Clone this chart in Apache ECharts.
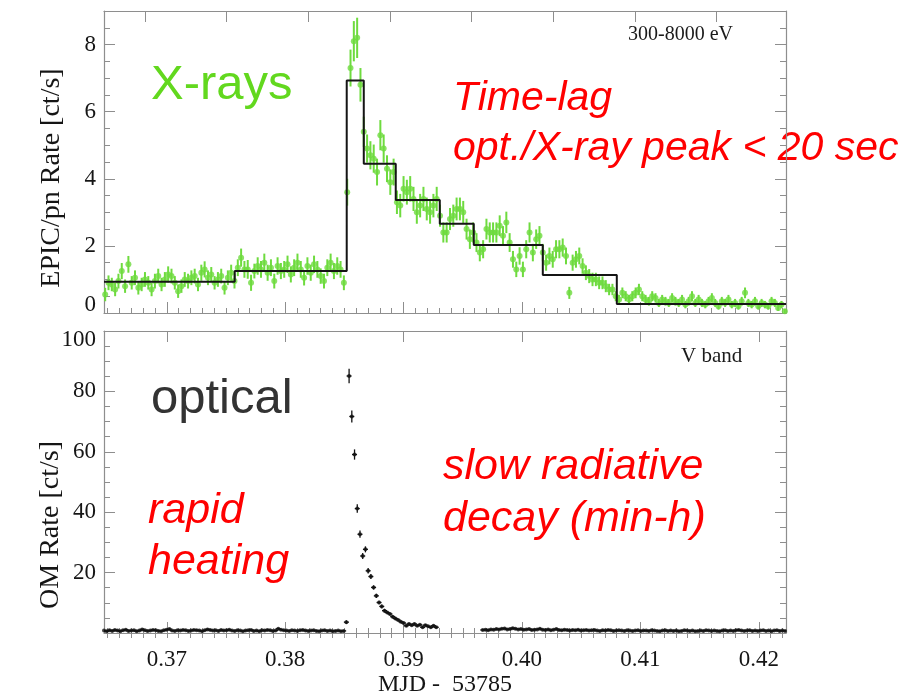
<!DOCTYPE html>
<html><head><meta charset="utf-8">
<script src="https://cdn.jsdelivr.net/npm/echarts@6/dist/echarts.min.js"></script>
<style>html,body{margin:0;padding:0;background:#fff}#c{width:921px;height:698px}</style>
</head><body><div id="c"></div>
<script>
// ---------------- data ----------------
const xMin = 0.3647, xMax = 0.4223;
const xTickLabels = [0.37, 0.38, 0.39, 0.40, 0.41, 0.42];
const topPanelTopTicks = [0.368142, 0.375042, 0.381943, 0.388843, 0.395743, 0.402644, 0.409544, 0.416444];
const xrayYTicks = [0, 2, 4, 6, 8];
const optYTicks = [20, 40, 60, 80, 100];

// X-ray light curve (EPIC/pn, 300-8000 eV), uniform bins
const xrayT0 = 0.3648, xrayDt = 0.00028;
const xrayRate = [
  0.55,0.9,0.85,0.7,0.95,1.25,0.8,1.45,0.9,1.05,
  0.75,0.85,1.0,0.9,0.7,0.95,1.1,0.85,1.0,1.15,
  1.1,0.9,0.65,0.8,1.0,0.95,1.05,1.1,0.85,1.2,
  1.3,1.05,1.15,0.9,1.0,1.1,0.75,1.05,1.2,0.95,
  1.35,1.65,1.3,1.3,0.9,1.25,1.4,1.3,1.5,1.2,
  1.35,0.95,1.4,1.25,1.3,1.45,1.15,1.35,1.5,1.3,
  1.05,1.4,1.2,1.45,1.3,1.1,0.95,1.35,1.5,1.25,
  1.4,1.3,0.9,
  3.6,7.3,8.1,8.2,6.8,5.4,4.9,4.7,4.6,4.2,
  5.3,4.9,4.3,3.9,4.2,3.3,3.2,3.7,3.6,3.7,
  3.4,3.0,3.2,3.4,3.1,3.0,3.2,3.4,2.9,2.4,
  2.4,2.8,2.9,3.1,3.1,3.0,2.5,2.2,2.4,2.1,
  1.8,1.9,2.5,2.4,2.4,2.4,2.6,2.3,2.7,2.1,
  1.6,1.3,1.7,1.3,1.9,2.4,1.8,2.2,2.3,1.8,
  1.5,1.7,1.6,1.9,1.9,1.95,1.7,0.6,1.5,1.6,
  1.7,1.4,1.2,1.1,1.0,1.0,0.9,0.9,0.8,0.7,
  0.7,0.5,
  0.4,0.6,0.5,0.4,0.5,0.6,0.7,0.5,0.4,0.35,
  0.5,0.45,0.3,0.4,0.35,0.3,0.45,0.35,0.3,0.4,
  0.25,0.35,0.5,0.3,0.4,0.3,0.25,0.35,0.45,0.3,
  0.2,0.35,0.3,0.4,0.25,0.3,0.2,0.35,0.6,0.3,
  0.25,0.35,0.2,0.3,0.25,0.2,0.35,0.3,0.15,0.25,
  0.05
];
const xrayErr = [
  0.2,0.22,0.2,0.2,0.22,0.24,0.2,0.25,0.2,0.22,
  0.2,0.2,0.22,0.2,0.2,0.22,0.22,0.2,0.22,0.24,
  0.22,0.2,0.2,0.2,0.22,0.22,0.22,0.22,0.2,0.24,
  0.24,0.22,0.22,0.2,0.22,0.22,0.2,0.22,0.24,0.22,
  0.25,0.27,0.25,0.28,0.24,0.22,0.26,0.25,0.27,0.24,
  0.25,0.22,0.26,0.24,0.25,0.26,0.24,0.25,0.27,0.25,
  0.23,0.26,0.24,0.26,0.25,0.23,0.22,0.25,0.27,0.24,
  0.26,0.25,0.22,
  0.4,0.55,0.6,0.6,0.5,0.45,0.42,0.42,0.42,0.4,
  0.45,0.42,0.4,0.38,0.4,0.35,0.35,0.38,0.37,0.38,
  0.36,0.34,0.35,0.36,0.34,0.34,0.35,0.36,0.33,0.3,
  0.3,0.33,0.33,0.34,0.34,0.34,0.31,0.29,0.3,0.28,
  0.26,0.27,0.31,0.3,0.3,0.3,0.31,0.29,0.32,0.28,
  0.25,0.23,0.26,0.23,0.27,0.3,0.26,0.29,0.29,0.26,
  0.24,0.25,0.25,0.27,0.27,0.27,0.25,0.18,0.24,0.25,
  0.25,0.23,0.22,0.21,0.2,0.2,0.19,0.19,0.18,0.17,
  0.17,0.15,
  0.14,0.16,0.15,0.14,0.15,0.16,0.17,0.15,0.14,0.13,
  0.15,0.14,0.12,0.14,0.13,0.12,0.14,0.13,0.12,0.14,
  0.11,0.13,0.15,0.12,0.14,0.12,0.11,0.13,0.14,0.12,
  0.1,0.13,0.12,0.14,0.11,0.12,0.1,0.13,0.16,0.12,
  0.11,0.13,0.1,0.12,0.11,0.1,0.13,0.12,0.09,0.11,
  0.07
];

// Bayesian-block step curve
const blockEdges = [0.3647, 0.37574, 0.38520, 0.38664, 0.38934, 0.39306, 0.39593, 0.40176, 0.40801, 0.4223];
const blockLevels = [0.93, 1.25, 6.93, 4.45, 3.37, 2.66, 2.03, 1.13, 0.27];

// Optical (OM, V band), uniform bins
const optDt = 0.00023;
const optT0a = 0.3647;
const optQuiet1 = [
  0.8,0.6,0.9,0.7,1.0,0.8,0.6,0.9,1.1,0.7,
  0.8,0.9,0.6,0.8,1.2,0.9,0.7,0.8,1.0,0.9,
  0.7,0.6,0.9,1.1,1.3,0.8,0.7,0.9,0.8,1.0,
  0.9,0.7,0.8,1.0,0.9,0.8,0.6,0.9,1.2,1.0,
  0.8,0.9,0.7,1.0,0.8,0.9,1.1,0.8,0.7,0.9,
  0.8,0.6,0.8,0.9,1.0,0.7,0.8,0.6,0.9,0.8,
  1.0,0.9,0.7,0.8,1.4,1.1,0.9,0.8,0.7,0.9,
  0.8,0.7,0.9,1.0,0.8,0.7,0.8,0.9,0.7,0.6,
  0.8,0.9,0.7,0.8,0.6,0.7,0.8,0.6,0.7
];
const optFlare = [
  3.6,
  85.1,71.7,59.1,41.2,32.7,25.5,27.7,20.6,18.7,15.1,
  12.3,10.1,8.8,7.4,6.8,6.3,5.4,4.8,4.3,3.7,
  3.3,2.4,3.0,2.6,3.0,2.4,2.7,1.9,2.6,2.2,
  1.9,2.4,1.9
];
const optFlareErr = [
  0.6,
  2.4,2.0,1.7,1.4,1.2,1.0,1.0,0.9,0.8,0.7,
  0.7,0.6,0.6,0.6,0.5,0.5,0.5,0.5,0.4,0.4,
  0.4,0.4,0.4,0.4,0.4,0.4,0.4,0.4,0.4,0.4,
  0.4,0.4,0.4
];
const optT0b = 0.39669;
const optQuiet2 = [
  1.0,1.1,0.9,1.2,1.1,1.3,1.2,1.4,1.5,1.2,
  1.3,1.6,1.4,1.2,1.3,1.1,1.2,1.3,1.0,1.1,
  1.2,1.4,1.1,1.0,1.2,0.9,1.1,1.3,1.0,0.9,
  1.1,1.0,0.8,1.0,0.9,1.1,0.8,0.9,1.0,0.8,
  0.9,1.0,0.8,0.7,0.9,0.8,1.0,0.9,0.7,0.8,
  0.9,0.8,0.7,0.9,0.8,0.7,0.8,0.9,0.7,0.8,
  0.8,0.7,0.9,0.8,0.7,0.6,0.8,0.9,0.7,0.8,
  0.7,0.8,0.6,0.7,0.9,0.8,0.7,0.8,0.6,0.7,
  0.8,0.7,0.9,0.8,0.7,0.8,0.7,0.6,0.8,0.9,
  0.7,0.8,0.7,0.9,1.0,0.8,0.7,0.8,0.9,0.7,
  0.8,0.7,0.8,0.9,0.7,0.8,0.6,0.8,0.9,0.7,
  0.8,0.7
];
const optQuietErr = 0.3;

// ---------------- build ----------------
const xrayData = xrayRate.map((v, i) => [xrayT0 + i * xrayDt, v, xrayErr[i]]);
const stepData = blockLevels.map((v, i) => [blockEdges[i], v]);
stepData.push([blockEdges[blockEdges.length - 1], blockLevels[blockLevels.length - 1]]);
const optA = optQuiet1.concat(optFlare);
const optData = optA.map((v, i) => [optT0a + i * optDt, v, i < optQuiet1.length ? optQuietErr : optFlareErr[i - optQuiet1.length]]);
optQuiet2.forEach((v, i) => optData.push([optT0b + i * optDt, v, optQuietErr]));

function steps(a, b, s) { const r = []; const n = Math.round((b - a) / s); for (let i = 0; i <= n; i++) r.push(+(a + i * s).toFixed(6)); return r; }
const xMinor = steps(0.365, 0.422, 0.001);
const yTopMinor = steps(0, 9, 0.5);
const yBotMinor = steps(0, 100, 5);

const AX = '#8e8e8e';
const serif = '"Liberation Serif", "DejaVu Serif", serif';
const sans = '"Liberation Sans", Arial, sans-serif';
const INK = '#151515';

function xAx(g, pos, ticks, len, labels, extra) {
  return Object.assign({
    type: 'value', gridIndex: g, position: pos, min: xMin, max: xMax,
    axisLine: { show: true, onZero: false, lineStyle: { color: AX, width: 1.2 } },
    axisTick: ticks ? { show: true, inside: true, length: len, customValues: ticks, lineStyle: { color: AX, width: 1 } } : { show: false },
    axisLabel: labels ? { show: true, customValues: labels, formatter: v => v.toFixed(2), margin: 15,
      fontFamily: serif, fontSize: 23, color: INK } : { show: false },
    splitLine: { show: false }
  }, extra || {});
}
const yLabelRich = {
  lo: { fontFamily: serif, fontSize: 23, color: INK, padding: [0, 0, 16, 0] },
  hi: { fontFamily: serif, fontSize: 23, color: INK, padding: [18, 0, 0, 0] }
};
function yAx(g, pos, mn, mx, ticks, len, labels, extra) {
  return Object.assign({
    type: 'value', gridIndex: g, position: pos, min: mn, max: mx,
    axisLine: { show: true, onZero: false, lineStyle: { color: AX, width: 1.2 } },
    axisTick: { show: true, inside: true, length: len, customValues: ticks, lineStyle: { color: AX, width: 1 } },
    axisLabel: labels ? { show: true, customValues: labels, margin: 8,
      formatter: v => v === 0 ? '{lo|0}' : (v === 100 ? '{hi|100}' : String(v)), rich: yLabelRich,
      fontFamily: serif, fontSize: 23, color: INK } : { show: false },
    splitLine: { show: false }
  }, extra || {});
}

function errBar(color, width, cap) {
  return function (params, api) {
    const x = api.value(0), y = api.value(1), e = api.value(2);
    const a = api.coord([x, y - e]), b = api.coord([x, y + e]);
    const children = [{ type: 'line', shape: { x1: a[0], y1: a[1], x2: b[0], y2: b[1] }, style: { stroke: color, lineWidth: width } }];
    if (cap) {
      const c = api.coord([x, y]);
      children.push({ type: 'line', shape: { x1: c[0] - cap, y1: c[1], x2: c[0] + cap, y2: c[1] }, style: { stroke: color, lineWidth: width } });
    }
    return { type: 'group', children };
  };
}

const GREEN = '#6edb3e';
const chart = echarts.init(document.getElementById('c'), null, { renderer: 'canvas' });
chart.setOption({
  animation: false,
  backgroundColor: '#fff',
  grid: [
    { left: 104, top: 11, width: 682, height: 302 },
    { left: 104, top: 331, width: 682, height: 303 }
  ],
  xAxis: [
    xAx(0, 'bottom', xTickLabels, 11, null),
    xAx(0, 'bottom', xMinor, 5, null, { axisLine: { show: false } }),
    xAx(0, 'top', topPanelTopTicks, 11, null),
    xAx(0, 'top', null, 5, null, { axisLine: { show: false } }),
    xAx(1, 'bottom', xTickLabels, 11, xTickLabels, {
      name: 'MJD -  53785', nameLocation: 'middle', nameGap: 40,
      nameTextStyle: { fontFamily: serif, fontSize: 24, color: INK } }),
    xAx(1, 'bottom', xMinor, 5, null, { axisLine: { show: false } }),
    xAx(1, 'top', xTickLabels, 11, null),
    xAx(1, 'top', xMinor, 5, null, { axisLine: { show: false } })
  ],
  yAxis: [
    yAx(0, 'left', 0, 9, xrayYTicks, 11, xrayYTicks),
    yAx(0, 'left', 0, 9, yTopMinor, 6, null, { axisLine: { show: false } }),
    yAx(0, 'right', 0, 9, xrayYTicks, 11, null),
    yAx(0, 'right', 0, 9, yTopMinor, 6, null, { axisLine: { show: false } }),
    yAx(1, 'left', 0, 100, optYTicks, 11, optYTicks),
    yAx(1, 'left', 0, 100, yBotMinor, 6, null, { axisLine: { show: false } }),
    yAx(1, 'right', 0, 100, optYTicks, 11, null),
    yAx(1, 'right', 0, 100, yBotMinor, 6, null, { axisLine: { show: false } })
  ],
  series: [
    { type: 'custom', xAxisIndex: 0, yAxisIndex: 0, data: xrayData, encode: { x: 0, y: 1 },
      renderItem: errBar(GREEN, 2, 0), clip: true, z: 2, silent: true },
    { type: 'scatter', xAxisIndex: 0, yAxisIndex: 0, data: xrayData, symbol: 'circle', symbolSize: 6,
      itemStyle: { color: GREEN }, z: 3, silent: true },
    { type: 'line', xAxisIndex: 0, yAxisIndex: 0, data: stepData, step: 'end', symbol: 'none',
      lineStyle: { color: INK, width: 2 }, z: 4, silent: true },
    { type: 'custom', xAxisIndex: 4, yAxisIndex: 4, data: optData, encode: { x: 0, y: 1 },
      renderItem: errBar('#111', 1.3, 2.5), clip: true, z: 2, silent: true },
    { type: 'scatter', xAxisIndex: 4, yAxisIndex: 4, data: optData, symbol: 'circle', symbolSize: 4,
      itemStyle: { color: '#111' }, z: 3, silent: true }
  ],
  graphic: [
    { type: 'text', x: 52, y: 178, rotation: Math.PI / 2, style: { text: 'EPIC/pn Rate [ct/s]', fill: INK, font: '28px ' + serif, textAlign: 'center', textVerticalAlign: 'middle' } },
    { type: 'text', x: 51, y: 525, rotation: Math.PI / 2, style: { text: 'OM Rate [ct/s]', fill: INK, font: '28px ' + serif, textAlign: 'center', textVerticalAlign: 'middle' } },
    { type: 'text', x: 151, y: 85, style: { text: 'X-rays', fill: '#62d81e', font: '49px ' + sans, textAlign: 'left', textVerticalAlign: 'middle' } },
    { type: 'text', x: 628, y: 35, style: { text: '300-8000 eV', fill: '#1a1a1a', font: '20px ' + serif, textAlign: 'left', textVerticalAlign: 'middle' } },
    { type: 'text', x: 453, y: 99, style: { text: 'Time-lag', fill: '#ff0000', font: 'italic 41px ' + sans, textAlign: 'left', textVerticalAlign: 'middle' } },
    { type: 'text', x: 453, y: 149, style: { text: 'opt./X-ray peak < 20 sec', fill: '#ff0000', font: 'italic 41px ' + sans, textAlign: 'left', textVerticalAlign: 'middle' } },
    { type: 'text', x: 151, y: 399, style: { text: 'optical', fill: '#333333', font: '49px ' + sans, textAlign: 'left', textVerticalAlign: 'middle' } },
    { type: 'text', x: 681, y: 356, style: { text: 'V band', fill: '#1a1a1a', font: '21px ' + serif, textAlign: 'left', textVerticalAlign: 'middle' } },
    { type: 'text', x: 148, y: 511, style: { text: 'rapid', fill: '#ff0000', font: 'italic 43px ' + sans, textAlign: 'left', textVerticalAlign: 'middle' } },
    { type: 'text', x: 148, y: 562, style: { text: 'heating', fill: '#ff0000', font: 'italic 43px ' + sans, textAlign: 'left', textVerticalAlign: 'middle' } },
    { type: 'text', x: 443, y: 467, style: { text: 'slow radiative', fill: '#ff0000', font: 'italic 43px ' + sans, textAlign: 'left', textVerticalAlign: 'middle' } },
    { type: 'text', x: 443, y: 519, style: { text: 'decay (min-h)', fill: '#ff0000', font: 'italic 43px ' + sans, textAlign: 'left', textVerticalAlign: 'middle' } }
  ]
});
</script></body></html>
